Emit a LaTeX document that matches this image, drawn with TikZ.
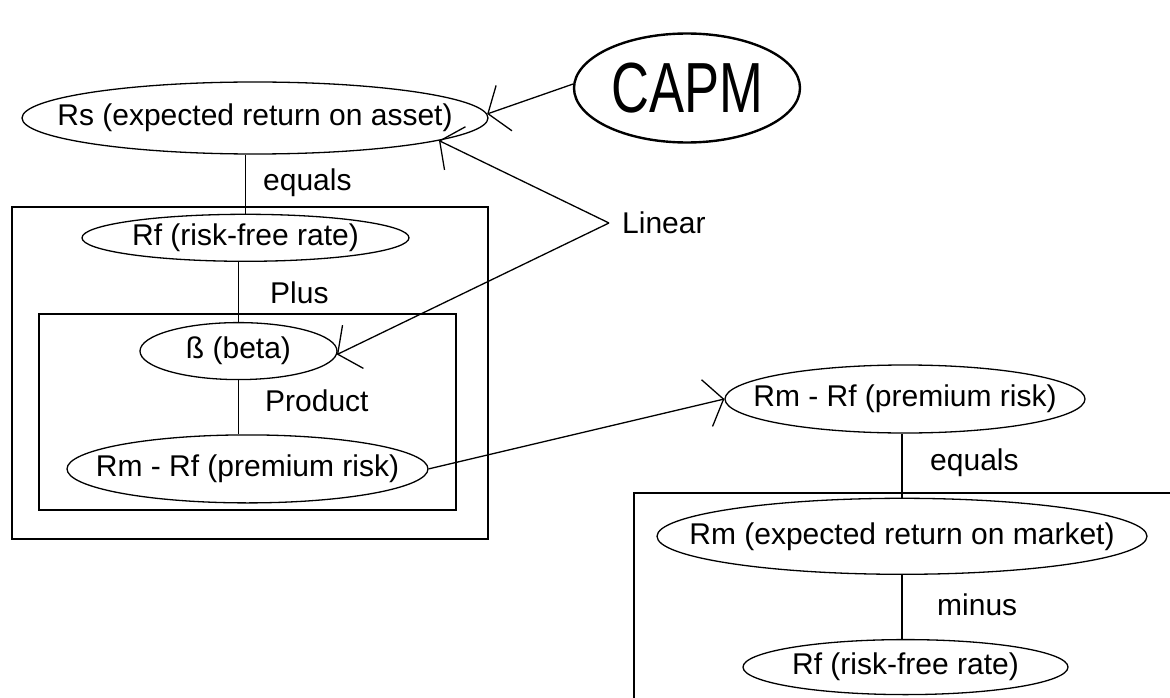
\documentclass[tikz,border=0pt]{standalone}
\usepackage{fontspec}
\setmainfont{Liberation Sans}
\usepackage{graphicx}
\usepackage{tikz}
\usetikzlibrary{arrows.meta,shapes,positioning}
\newcommand{\nodetext}[1]{\makebox[0pt]{#1}}
\tikzstyle{oval} = [ellipse, draw, line width=1.3pt, inner sep=0pt, font=\fontsize{30}{34}\selectfont]
\tikzstyle{optext} = [inner sep=0pt, anchor=west, font=\fontsize{30}{34}\selectfont]
\tikzstyle{link} = [line width=1.3pt]
\tikzstyle{barb} = [line width=1.3pt, -{Straight Barb[length=17pt, width=48pt]}]
\tikzstyle{frame} = [line width=1.5pt]

\begin{document}
\begin{tikzpicture}[x=1pt, y=-1pt]
\useasboundingbox (0,0) rectangle (1170,698);

% asset side
\node[oval, minimum width=466pt, minimum height=72pt] (rs) at (255,118) {\nodetext{Rs (expected return on asset)}};
\node[oval, minimum width=327pt, minimum height=47pt, below=59pt of rs, xshift=-9.5pt] (rf) {\nodetext{Rf (risk-free rate)}};
\node[oval, minimum width=197pt, minimum height=57pt, below=60pt of rf, xshift=-7pt] (beta) {\nodetext{ß (beta)}};
\node[oval, minimum width=361pt, minimum height=68pt, below=54pt of beta, xshift=9pt] (prem) {\nodetext{Rm - Rf (premium risk)}};

\node[ellipse, draw, line width=2.4pt, inner sep=0pt, minimum width=226pt, minimum height=109pt, font=\fontsize{71}{80}\selectfont] (capm) at (687,88) {\nodetext{\scalebox{0.74}[1]{CAPM}}};

% market side
\node[oval, minimum width=360pt, minimum height=68pt] (premr) at (905,399) {\nodetext{Rm - Rf (premium risk)}};
\node[oval, minimum width=490pt, minimum height=76pt, below=64pt of premr, xshift=-3pt] (rm) {\nodetext{Rm (expected return on market)}};
\node[oval, minimum width=325pt, minimum height=55pt, below=64pt of rm, xshift=3.5pt] (rfr) {\nodetext{Rf (risk-free rate)}};

\node[optext] (eq) at (263,183) {equals};
\node[optext] (plus) at (270,293) {Plus};
\node[optext] (prod) at (265,401) {Product};
\node[optext] (eqr) at (930,463) {equals};
\node[optext] (minus) at (937,605) {minus};
\node[optext] (linear) at (622,223) {Linear};
\coordinate[left=13pt of linear] (fork);

% groups
\draw[frame] (12,207) rectangle (488,539);
\draw[frame] (39,314) rectangle (456,510);
\draw[frame] (1170,493) -| (634,698);

\draw[link] (rf.north) -- (rf.north |- rs.south);
\draw[link] (beta.north) -- (beta.north |- rf.south);
\draw[link] (beta.south) -- (beta.south |- prem.north);
\draw[link] (rm.north) -- (rm.north |- premr.south);
\draw[link] (rm.south) -- (rm.south |- rfr.north);

\draw[barb] (capm.178) -- (rs.1);
\draw[barb] (fork) -- (rs.-7);
\draw[barb] (fork) -- (beta.-2);
\draw[barb] (prem.east) -- (premr.west);
\end{tikzpicture}
\end{document}
